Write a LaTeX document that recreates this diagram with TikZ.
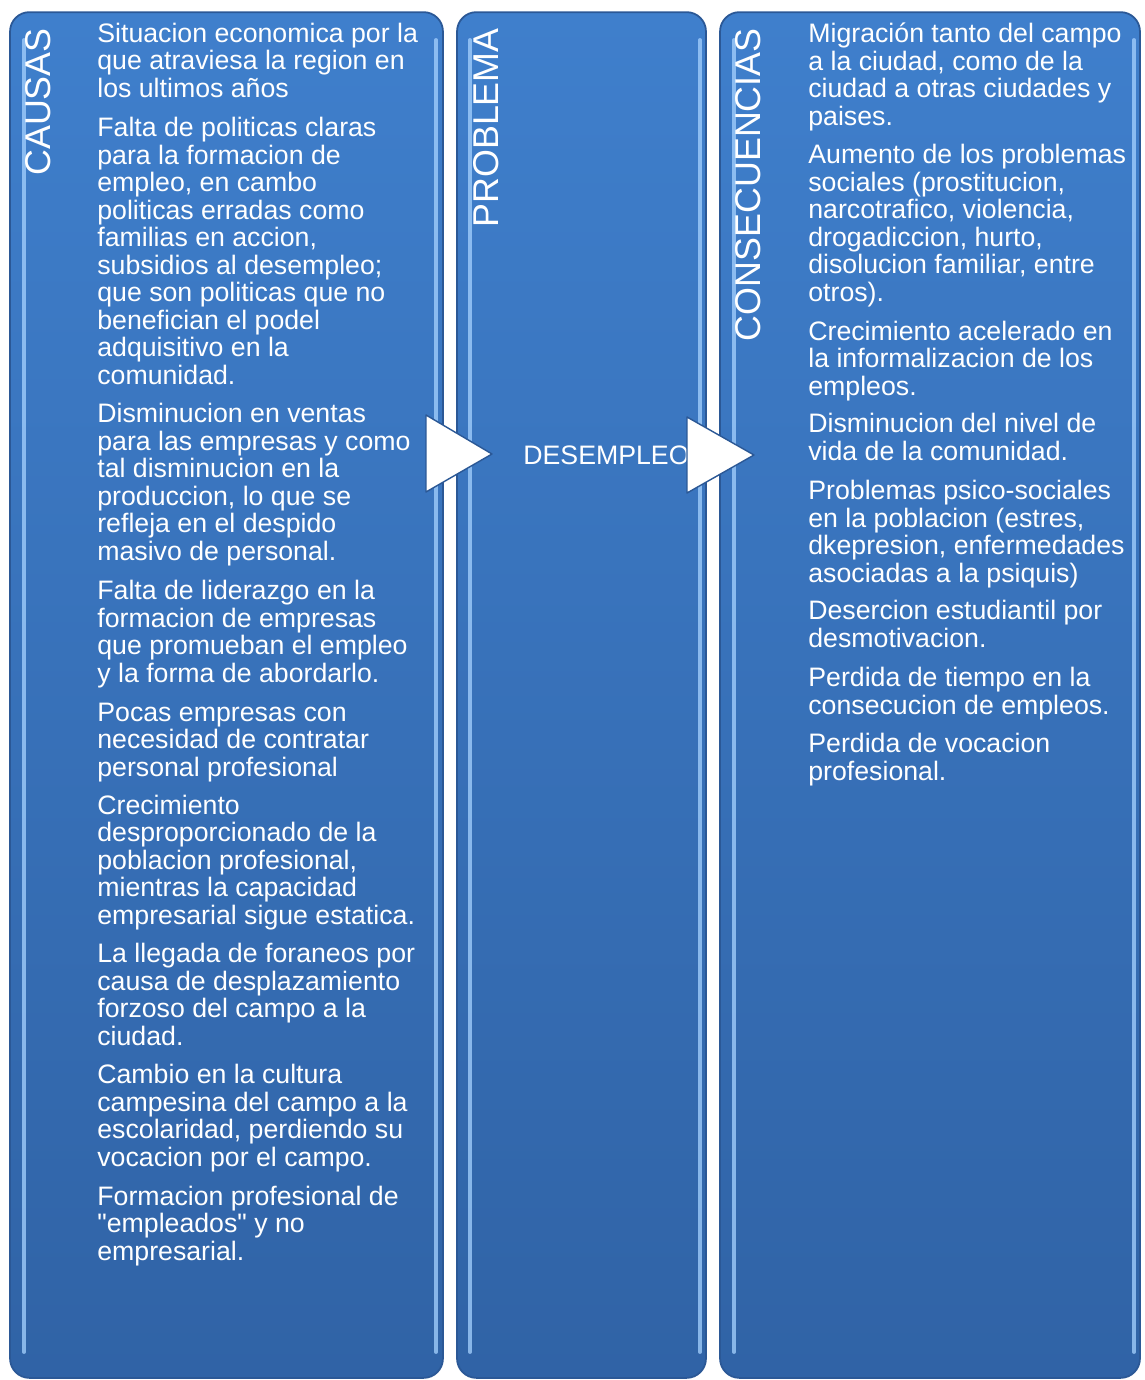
\documentclass[tikz,border=0pt]{standalone}
\usepackage{fontspec}
\setmainfont{Liberation Sans}
\usetikzlibrary{positioning}

\definecolor{panelTop}{HTML}{3F7FCC}
\definecolor{panelBot}{HTML}{3063A6}
\definecolor{panelEdge}{HTML}{2B5896}
\definecolor{panelGlow}{HTML}{A6D2FF}

\tikzset{
  panel/.style = {draw=panelEdge, line width=1pt, rounded corners=11pt,
                  top color=panelTop, bottom color=panelBot,
                  minimum height=27.32cm, inner sep=0pt},
  glow/.style  = {draw=panelGlow, line width=2.2pt, line cap=round, opacity=0.75},
  ttl/.style   = {rotate=90, anchor=east, text=white, inner sep=0pt,
                  font=\fontsize{20.4}{22}\selectfont},
  % anchored on the baseline of the last line
  item/.style  = {anchor=base west, text=white, align=left, inner sep=0pt,
                  font=\fontsize{15.2}{15.65}\selectfont},
  tri/.style   = {draw=panelEdge, fill=white, line width=0.8pt, line join=round}
}

\begin{document}
\begin{tikzpicture}[x=0.02cm, y=-0.02cm]
\useasboundingbox (0,0) rectangle (1144,1380);

% ---------------- panels ----------------
\node[panel, minimum width=8.66cm] (causas) at (226.5,695) {};
\node[panel, minimum width=4.98cm] (problema) at (581.5,695) {};
\node[panel, minimum width=8.40cm] (consec) at (930,695) {};

% inner highlights
\draw[glow] (24,40) -- (24,1352);
\draw[glow] (436,40) -- (436,1352);
\draw[glow] (470,40) -- (470,1352);
\draw[glow] (700,40) -- (700,1352);
\draw[glow] (734,40) -- (734,1352);
\draw[glow] (1134,40) -- (1134,1352);

% ---------------- titles ----------------
\node[ttl] (tcausas) at (38,28) {CAUSAS};
\node[ttl] (tproblema) at (486,28) {PROBLEMA};
\node[ttl] (tconsec) at (748,28) {CONSECUENCIAS};

% ---------------- causes ----------------
\node[item] (c1) at (97,97)
      {Situacion economica por la\\ que atraviesa la region en\\ los ultimos años};
\node[item] (c2) at (97,384)
      {Falta de politicas claras\\ para la formacion de\\ empleo, en cambo\\
       politicas erradas como\\ familias en accion,\\ subsidios al desempleo;\\
       que son politicas que no\\ benefician el podel\\ adquisitivo en la\\ comunidad.};
\node[item] (c3) at (97,560)
      {Disminucion en ventas\\ para las empresas y como\\ tal disminucion en la\\
       produccion, lo que se\\ refleja en el despido\\ masivo de personal.};
\node[item] (c4) at (97,682)
      {Falta de liderazgo en la\\ formacion de empresas\\ que promueban el empleo\\
       y la forma de abordarlo.};
\node[item] (c5) at (97,776)
      {Pocas empresas con\\ necesidad de contratar\\ personal profesional};
\node[item] (c6) at (97,924)
      {Crecimiento\\ desproporcionado de la\\ poblacion profesional,\\
       mientras la capacidad\\ empresarial sigue estatica.};
\node[item] (c7) at (97,1045)
      {La llegada de foraneos por\\ causa de desplazamiento\\ forzoso del campo a la\\ ciudad.};
\node[item] (c8) at (97,1166)
      {Cambio en la cultura\\ campesina del campo a la\\ escolaridad, perdiendo su\\
       vocacion por el campo.};
\node[item] (c9) at (97,1260)
      {Formacion profesional de\\ \textquotedbl empleados\textquotedbl{} y no\\ empresarial.};

% ---------------- problem ----------------
\node[item, anchor=west] (prob) at (523,455) {DESEMPLEO};

% ---------------- consequences ----------------
\node[item] (k1) at (808,125)
      {Migración tanto del campo\\ a la ciudad, como de la\\ ciudad a otras ciudades y\\ paises.};
\node[item] (k2) at (808,301)
      {Aumento de los problemas\\ sociales (prostitucion,\\ narcotrafico, violencia,\\
       drogadiccion, hurto,\\ disolucion familiar, entre\\ otros).};
\node[item] (k3) at (808,395)
      {Crecimiento acelerado en\\ la informalizacion de los\\ empleos.};
\node[item] (k4) at (808,460)
      {Disminucion del nivel de\\ vida de la comunidad.};
\node[item] (k5) at (808,582)
      {Problemas psico-sociales\\ en la poblacion (estres,\\ dkepresion, enfermedades\\
       asociadas a la psiquis)};
\node[item] (k6) at (808,647)
      {Desercion estudiantil por\\ desmotivacion.};
\node[item] (k7) at (808,714)
      {Perdida de tiempo en la\\ consecucion de empleos.};
\node[item] (k8) at (808,780)
      {Perdida de vocacion\\ profesional.};

% ---------------- arrows ----------------
\draw[tri] (426,415) -- (426,492) -- (492,454) -- cycle;
\draw[tri] (687,417) -- (687,493) -- (754,455) -- cycle;

\end{tikzpicture}
\end{document}
